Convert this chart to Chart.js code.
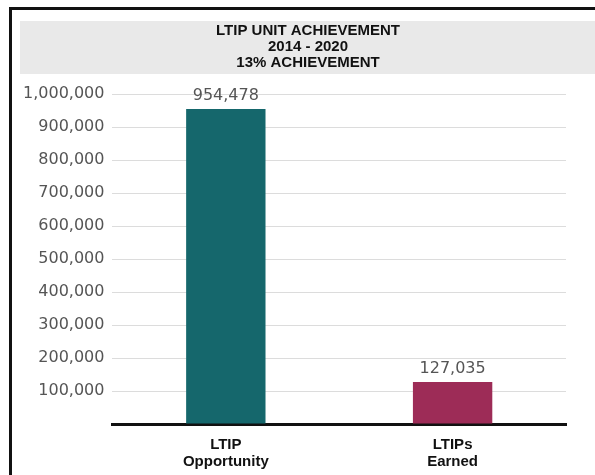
<!DOCTYPE html>
<html>
<head>
<meta charset="utf-8">
<script src="https://cdn.jsdelivr.net/npm/chart.js@4/dist/chart.umd.min.js"></script>
<style>
  html, body { margin: 0; padding: 0; background: #fff; }
  #wrap { width: 595px; height: 475px; position: relative; }
</style>
</head>
<body>
<div id="wrap"><canvas id="ltipChart" width="595" height="475"></canvas></div>
<script>
const titleLines = ['LTIP UNIT ACHIEVEMENT', '2014 - 2020', '13% ACHIEVEMENT'];
const categories = [['LTIP', 'Opportunity'], ['LTIPs', 'Earned']];
const unitValues = [954478, 127035];
const barColors = ['#15676c', '#9d2c57'];
const yTickValues = [0, 100000, 200000, 300000, 400000, 500000, 600000, 700000, 800000, 900000, 1000000];

const fmt = (v) => v.toLocaleString('en-US');

// frame, grey band and the three title lines (centred on the band, not the chart)
const framePlugin = {
    id: 'frame',
    beforeDraw(chart) {
        const ctx = chart.ctx;
        ctx.save();
        ctx.fillStyle = '#e9e9e9';
        ctx.fillRect(20, 21, 575, 53);
        ctx.strokeStyle = '#111';
        ctx.lineWidth = 3;
        ctx.beginPath();
        ctx.moveTo(595, 8.5);
        ctx.lineTo(10.5, 8.5);
        ctx.lineTo(10.5, 475);
        ctx.stroke();

        ctx.fillStyle = '#111';
        ctx.font = 'bold 15px "Liberation Sans", Arial, sans-serif';
        ctx.textAlign = 'center';
        ctx.textBaseline = 'middle';
        titleLines.forEach((line, i) => {
            ctx.fillText(line, 308, 31 + i * 16);
        });
        ctx.restore();
    }
};

// value labels above bars
const valueLabels = {
    id: 'valueLabels',
    afterDatasetsDraw(chart) {
        const ctx = chart.ctx;
        const meta = chart.getDatasetMeta(0);
        ctx.save();
        ctx.font = '16px "DejaVu Sans"';
        ctx.fillStyle = '#555';
        ctx.textAlign = 'center';
        ctx.textBaseline = 'alphabetic';
        meta.data.forEach((bar, i) => {
            ctx.fillText(fmt(unitValues[i]), bar.x, bar.y - 9);
        });
        ctx.restore();
    }
};

new Chart(document.getElementById('ltipChart'), {
    type: 'bar',
    data: {
        labels: categories,
        datasets: [{
            data: unitValues,
            backgroundColor: barColors,
            borderWidth: 0,
            barPercentage: 0.35,
            categoryPercentage: 1
        }]
    },
    options: {
        responsive: false,
        animation: false,
        layout: { padding: { left: 15, right: 29, bottom: -7, top: 94 } },
        plugins: {
            legend: { display: false },
            tooltip: { enabled: false },
            title: { display: false }
        },
        scales: {
            x: {
                grid: { display: false, drawTicks: false },
                border: { display: true, color: '#111', width: 3 },
                ticks: {
                    color: '#111',
                    padding: 12,
                    font: { family: '"Liberation Sans", Arial, sans-serif', size: 15, weight: 'bold', lineHeight: 17 / 15 }
                }
            },
            y: {
                min: 0,
                max: 1000000,
                afterBuildTicks(scale) {
                    scale.ticks = yTickValues.map(v => ({ value: v }));
                },
                grid: {
                    color: (c) => c.tick && c.tick.value === 0 ? 'rgba(0,0,0,0)' : '#dcdcdc',
                    lineWidth: 1,
                    drawTicks: false
                },
                border: { display: false },
                ticks: {
                    padding: 8,
                    color: '#555',
                    font: { family: '"DejaVu Sans", sans-serif', size: 16 },
                    callback: (v) => v === 0 ? '' : fmt(v)
                }
            }
        }
    },
    plugins: [framePlugin, valueLabels]
});
</script>
</body>
</html>
